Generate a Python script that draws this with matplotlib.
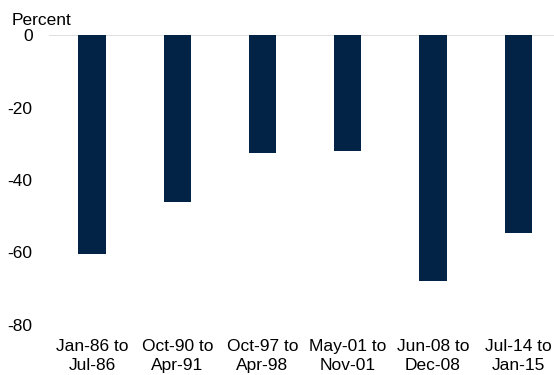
import matplotlib.pyplot as plt

# Peak-to-trough declines by episode
periods = ['Jan-86 to\nJul-86', 'Oct-90 to\nApr-91', 'Oct-97 to\nApr-98',
           'May-01 to\nNov-01', 'Jun-08 to\nDec-08', 'Jul-14 to\nJan-15']
declines = [-60.4, -46.1, -32.6, -32.1, -67.9, -54.7]
yticks = [0, -20, -40, -60, -80]

plt.rcParams['font.family'] = ['Liberation Sans', 'DejaVu Sans']

fig = plt.figure(figsize=(5.54, 3.75), dpi=100)
ax = fig.add_axes([49.4 / 554, 1 - 325 / 375, 1 - 49.4 / 554, 290 / 375])

x = range(len(periods))
ax.bar(x, declines, width=0.32, color='#022346', zorder=2)
ax.axhline(0, color='#d9d9d9', lw=1.2, zorder=1)

ax.set_xlim(-0.5, 5.42)
ax.set_ylim(-80, 0)
ax.set_yticks(yticks)
ax.set_yticklabels([str(t) for t in yticks])
ax.set_xticks(list(x))
ax.set_xticklabels(periods, linespacing=1.35)
ax.tick_params(axis='y', length=0, pad=12, labelsize=12.5)
ax.tick_params(axis='x', length=0, pad=10, labelsize=12.5)
for s in ax.spines.values():
    s.set_visible(False)

fig.text(12 / 554, 1 - 20.7 / 375, 'Percent', fontsize=12.5, va='center', ha='left')

fig.savefig('out.png', dpi=100)
